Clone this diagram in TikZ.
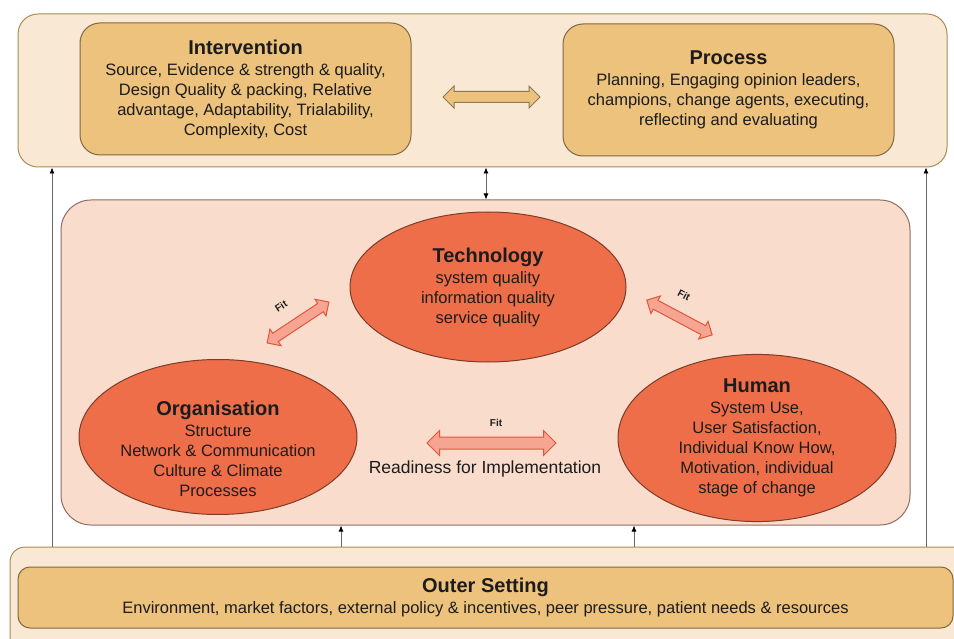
\documentclass[tikz,border=0pt]{standalone}
\usepackage{fontspec}
\setmainfont{Liberation Sans}
\usepackage{tikz}
\usetikzlibrary{calc}
\usetikzlibrary{positioning}
\usetikzlibrary{shapes.geometric}
\usetikzlibrary{shapes.arrows}
\usetikzlibrary{arrows.meta}

\definecolor{sandlight}{HTML}{F9E8D3}
\definecolor{sandline}{HTML}{A88E55}
\definecolor{sand}{HTML}{EDC27D}
\definecolor{sanddark}{HTML}{806A42}
\definecolor{peach}{HTML}{FADCCC}
\definecolor{peachline}{HTML}{8E6D62}
\definecolor{coral}{HTML}{EE6E4A}
\definecolor{coralline}{HTML}{7E3C26}
\definecolor{salmon}{HTML}{F5A592}
\definecolor{salmonline}{HTML}{E0563A}
\definecolor{ink}{HTML}{1C1C1C}

\newcommand{\boxtitle}[1]{{\fontsize{20}{22}\selectfont\bfseries #1}\\[1pt]}

\tikzset{
  body/.style={font=\fontsize{16.5}{20}\selectfont,align=center,text=ink},
  group box/.style={draw=sandline,fill=sandlight,line width=1pt,rounded corners=20pt,inner sep=0pt},
  part box/.style={body,draw=sanddark,fill=sand,line width=1pt,rounded corners=20pt,inner sep=0pt},
  factor/.style={body,ellipse,draw=coralline,fill=coral,line width=1pt,inner sep=0pt},
  fat arrow/.style={double arrow,double arrow head extend=5.5pt,inner xsep=0pt,inner ysep=5pt,line width=1pt},
  fit arrow/.style={fat arrow,draw=salmonline,fill=salmon},
  fit label/.style={font=\fontsize{10}{11}\selectfont\bfseries,text=ink},
  thin arrow/.style={draw=black!60,line width=0.8pt,arrows={-{Latex[length=6pt,width=5pt,black]}}}
}

\begin{document}
\begin{tikzpicture}[x=1pt,y=-1pt]

\useasboundingbox (0,0) rectangle (954,639);

% top band
\node[group box,minimum width=929pt,minimum height=153pt] (top) at (482.5,90.5) {};
\node[part box,minimum width=331pt,minimum height=132pt] (interv) at (245.5,89) {\boxtitle{Intervention}Source, Evidence \& strength \& quality,\\Design Quality \& packing, Relative\\advantage, Adaptability, Trialability,\\Complexity, Cost};
\node[part box,minimum width=331pt,minimum height=132pt] (process) at (728.5,90) {\boxtitle{Process}Planning, Engaging opinion leaders,\\champions, change agents, executing,\\reflecting and evaluating};
\node[fat arrow,draw=sanddark!90,fill=sand,minimum height=97pt] (link) at (491.5,97) {};

% bottom band
\node[group box,rounded corners=15pt,minimum width=960pt,minimum height=112pt] (outer) at (490,603) {};
\node[part box,rounded corners=12pt,minimum width=935pt,minimum height=61pt] (outerset) at (485.5,597.5) {\boxtitle{Outer Setting}Environment, market factors, external policy \& incentives, peer pressure, patient needs \& resources};

% middle band
\node[draw=peachline,fill=peach,line width=1pt,rounded corners=30pt,minimum width=849pt,minimum height=325pt] (mid) at (485.5,362.5) {};
\node[factor,minimum width=276pt,minimum height=150pt] (tech) at (488,287) {\boxtitle{Technology}system quality\\information quality\\service quality};
\node[factor,minimum width=278pt,minimum height=155pt] (org) at (218,437) {};
\node[body] (orgtext) at ([yshift=-12pt]org.center) {\boxtitle{Organisation}Structure\\Network \& Communication\\Culture \& Climate\\Processes};
\node[factor,minimum width=278pt,minimum height=152pt] (human) at (757,438) {\boxtitle{Human}System Use,\\User Satisfaction,\\Individual Know How,\\Motivation, individual\\stage of change};

\node[fit arrow,minimum height=129pt,inner ysep=5.5pt,double arrow head extend=6.5pt] (fit oh) at (491.5,443) {};
\node[fit arrow,minimum height=74pt,inner ysep=4.5pt,double arrow head extend=5pt,rotate=33.5] (fit ot) at (298,322.5) {};
\node[fit arrow,minimum height=74pt,inner ysep=4.5pt,double arrow head extend=5pt,rotate=-28] (fit th) at (679.5,317.5) {};
\node[fit label] (fit oh label) at (496,423) {Fit};
\node[fit label,rotate=33] (fit ot label) at (281,306) {Fit};
\node[fit label,rotate=-28] (fit th label) at (684,295) {Fit};
\node[body,font=\fontsize{17.5}{20}\selectfont] (ready) at (485,469) {Readiness for Implementation};

% thin connectors
\coordinate (left rail) at (52,0);
\coordinate (right rail) at (926,0);
\coordinate (core) at (486,0);
\coordinate (org feed) at (341,0);
\coordinate (human feed) at (634,0);
\draw[thin arrow] (left rail |- outer.north) -- (left rail |- top.south);
\draw[thin arrow] (right rail |- outer.north) -- (right rail |- top.south);
\draw[thin arrow,arrows={{Latex[length=6pt,width=5pt,black]}-{Latex[length=6pt,width=5pt,black]}}] (core |- top.south) -- (core |- mid.north);
\draw[thin arrow] (org feed |- outer.north) -- (org feed |- mid.south);
\draw[thin arrow] (human feed |- outer.north) -- (human feed |- mid.south);

\end{tikzpicture}
\end{document}
